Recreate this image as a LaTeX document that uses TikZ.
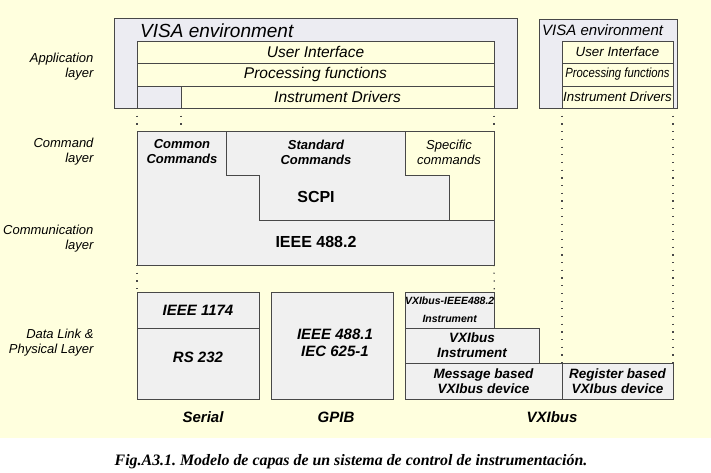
\documentclass[tikz,border=0pt]{standalone}
\usepackage{fontspec}
\setmainfont{Liberation Sans}
\newfontfamily\capfont{Liberation Serif}
\usepackage{xcolor}
\usepackage{graphicx}
\definecolor{bgyellow}{RGB}{255,255,222}
\definecolor{boxgray}{RGB}{240,240,240}
\definecolor{visagray}{RGB}{236,236,242}
\definecolor{linegray}{RGB}{72,72,72}
\frenchspacing

\begin{document}
\begin{tikzpicture}[x=1pt,y=-1pt,
  edge/.style={draw=linegray, line width=.9pt},
  box/.style={edge, fill=boxgray, anchor=north west, inner sep=0pt, outer sep=0pt, align=center},
  row/.style={box, fill=bgyellow, font=\fontsize{15.5}{18}\selectfont\itshape},
  rowsmall/.style={box, fill=bgyellow, minimum width=111, font=\fontsize{13.3}{16}\selectfont\itshape},
  layer/.style={anchor=east, align=right, font=\fontsize{13}{15}\selectfont\itshape},
  cmdtext/.style={align=center, font=\fontsize{13}{15}\selectfont\bfseries\itshape},
  big/.style={font=\fontsize{16}{19}\selectfont\bfseries},
  phys/.style={box, font=\fontsize{15}{17}\selectfont\bfseries\itshape},
  vxi/.style={box, font=\fontsize{13.5}{15}\selectfont\bfseries\itshape},
  bus/.style={font=\fontsize{15}{18}\selectfont\bfseries\itshape},
  dots/.style={draw=linegray, line width=1.2pt, dash pattern=on 1.2pt off 6.5pt}
]
\useasboundingbox (0,0) rectangle (711,472);
\fill[white] (0,0) rectangle (711,472);
\fill[bgyellow] (0,0) rectangle (711,438);

\node[layer] (applayer) at (97,67) {Application\\layer};
\node[layer] (cmdlayer) at (97,152) {Command\\layer};
\node[layer] (comlayer) at (97,239) {Communication\\layer};
\node[layer] (physlayer) at (97,343) {Data Link \&\\Physical Layer};

\node[box, fill=visagray, minimum width=403, minimum height=90] (visaA) at (114,18) {};
\node[anchor=west, inner sep=0pt, font=\fontsize{19}{22}\selectfont\itshape] (visaAtitle) at (140,31) {VISA environment};
\node[row, minimum width=357, minimum height=22] (uiA) at (137,41) {User Interface};
\node[row, minimum width=357, minimum height=23] (procA) at (137,63) {Processing functions};
\node[row, minimum width=313, minimum height=22] (drvA) at (181,86) {Instrument Drivers};
\draw[edge] (procA.south west) -- (procA.south west |- visaA.south);

\node[box, fill=visagray, minimum width=138, minimum height=89] (visaB) at (539,19) {};
\node[anchor=west, inner sep=0pt, font=\fontsize{15}{18}\selectfont\itshape] (visaBtitle) at (542,30) {VISA environment};
\node[rowsmall, minimum height=22] (uiB) at (562,41) {User Interface};
\node[rowsmall, minimum height=23] (procB) at (562,63) {\scalebox{.85}[1]{Processing functions}};
\node[rowsmall, minimum height=22] (drvB) at (562,86) {Instrument Drivers};

\node[box, minimum width=357, minimum height=134] (cmd) at (137,131) {};
\fill[bgyellow] (405,131) -| (cmd.east |- 0,220) -| (449,175) -| cycle;
\draw[edge] (226,131) |- (259,175) |- (cmd.east |- 0,220);
\draw[edge] (405,131) |- (449,175) -- (449,220);
\draw[edge] (cmd.north west) rectangle (cmd.south east);
\node[cmdtext] (common) at (182,152) {Common\\Commands};
\node[cmdtext] (standard) at (316,152) {Standard\\Commands};
\node[cmdtext, font=\fontsize{13}{15}\selectfont\itshape] (specific) at (449,152) {Specific\\commands};
\node[big] (scpi) at (316,197) {SCPI};
\node[big] (ieee4882) at (316,242) {IEEE 488.2};

\node[phys, minimum width=122, minimum height=36] (ieee1174) at (137,292) {IEEE 1174};
\node[phys, minimum width=122, minimum height=71] (serial) at (137,328) {};
\node[font=\fontsize{15}{17}\selectfont\bfseries\itshape] (rs232) at (198,357) {RS 232};
\node[phys, minimum width=122, minimum height=107] (gpib) at (271,292) {};
\node[align=center, font=\fontsize{15}{17}\selectfont\bfseries\itshape] (ieee4881) at (335,343) {IEEE 488.1\\IEC 625-1};
\node[vxi, minimum width=89, minimum height=36, font=\fontsize{10.5}{18}\selectfont\bfseries\itshape] (vxiieee) at (405,292) {VXIbus-IEEE488.2\\Instrument};
\node[vxi, minimum width=134, minimum height=35] (vxiinst) at (405,328) {VXIbus\\Instrument};
\node[vxi, minimum width=157, minimum height=36] (msgdev) at (405,363) {Message based\\VXIbus device};
\node[vxi, minimum width=111, minimum height=36] (regdev) at (562,363) {Register based\\VXIbus device};

\node[bus] (serlabel) at (203,417) {Serial};
\node[bus] (gpiblabel) at (336,417) {GPIB};
\node[bus] (vxilabel) at (552,417) {VXIbus};

\draw[dots] (procA.south west |- visaA.south) -- (procA.south west |- cmd.north);
\draw[dots] (drvA.south west) -- (drvA.south west |- cmd.north);
\draw[dots] (drvA.south east) -- (cmd.north east);
\draw[dots] (cmd.south west) -- (ieee1174.north west);
\draw[dots] (cmd.south east) -- (vxiieee.north east);
\draw[dots] (drvB.south west) -- (regdev.north west);
\draw[dots] (drvB.south east) -- (regdev.north east);

\node[font=\capfont\fontsize{15.9}{19}\selectfont\bfseries\itshape] (caption) at (351,462) {Fig.A3.1. Modelo de capas de un sistema de control de instrumentación.};
\end{tikzpicture}
\end{document}
